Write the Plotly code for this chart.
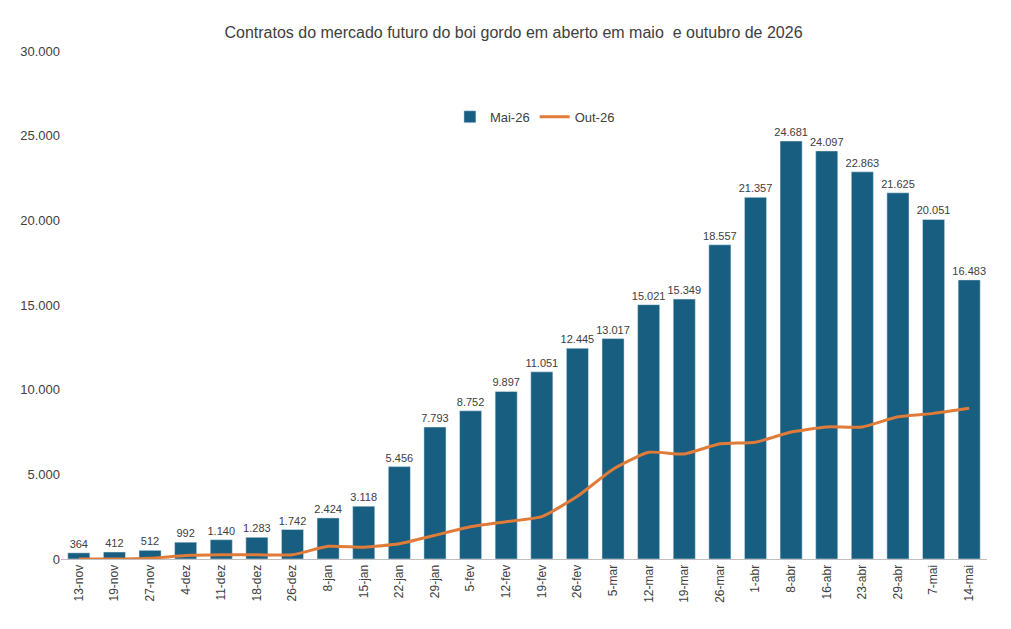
import plotly.graph_objects as go

# Data
dates = ['13-nov', '19-nov', '27-nov', '4-dez', '11-dez', '18-dez', '26-dez', '8-jan', '15-jan',
         '22-jan', '29-jan', '5-fev', '12-fev', '19-fev', '26-fev', '5-mar', '12-mar', '19-mar',
         '26-mar', '1-abr', '8-abr', '16-abr', '23-abr', '29-abr', '7-mai', '14-mai']
mai26 = [364, 412, 512, 992, 1140, 1283, 1742, 2424, 3118, 5456, 7793, 8752, 9897, 11051,
         12445, 13017, 15021, 15349, 18557, 21357, 24681, 24097, 22863, 21625, 20051, 16483]
out26 = [0, 0, 50, 200, 250, 250, 250, 750, 700, 900, 1400, 1900, 2200, 2500, 3700, 5300,
         6300, 6200, 6800, 6900, 7500, 7800, 7800, 8400, 8600, 8900]

labels = [f"{v:,}".replace(",", ".") for v in mai26]

fig = go.Figure()
fig.add_trace(go.Bar(x=dates, y=mai26, name='Mai-26', marker_color='#175E80',
                     text=labels, textposition='outside', cliponaxis=False,
                     textfont=dict(size=11, color='#404040'), width=0.62))
fig.add_trace(go.Scatter(x=dates, y=out26, name='Out-26', mode='lines',
                         line=dict(color='#E07B39', width=3, shape='spline', smoothing=0.5)))

fig.update_layout(
    title=dict(text='Contratos do mercado futuro do boi gordo em aberto em maio  e outubro de 2026',
               x=0.5, y=0.97, font=dict(size=16, color='#404040')),
    font=dict(family='Liberation Sans, Arial', color='#404040'),
    separators=',.',
    plot_bgcolor='white', paper_bgcolor='white',
    width=1011, height=629,
    margin=dict(l=46, r=32, t=43, b=78),
    legend=dict(orientation='h', x=0.42, y=0.9, xanchor='left', font=dict(size=13)),
    uniformtext=dict(minsize=11, mode='show'),
    showlegend=True,
)
fig.update_yaxes(range=[0, 30000], dtick=5000, tickformat=',d', showgrid=False,
                 zeroline=False, tickfont=dict(size=13))
fig.update_xaxes(tickangle=-90, showline=True, linecolor='#bfbfbf', tickfont=dict(size=12))

fig.write_html("out.html")
